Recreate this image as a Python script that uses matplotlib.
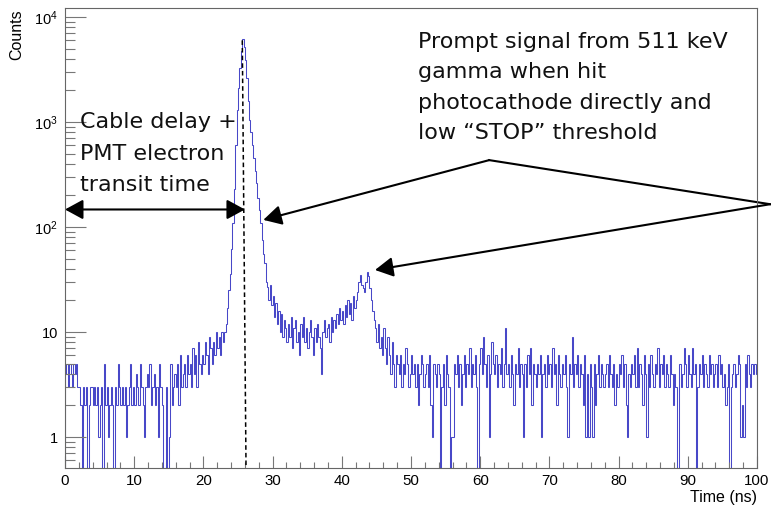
import numpy as np
import matplotlib
matplotlib.use("Agg")
import matplotlib.pyplot as plt
from matplotlib.ticker import FixedLocator, LogLocator, NullFormatter

plt.rcParams['font.family'] = ['Liberation Sans', 'DejaVu Sans']
plt.rcParams['mathtext.fontset'] = 'custom'
plt.rcParams['mathtext.rm'] = 'Liberation Sans'
plt.rcParams['mathtext.it'] = 'Liberation Sans'

# histogram: 0.2 ns bins from 0 to 100 ns (counts)
bin_width = 0.2
counts = [
    4, 5, 3, 5, 4, 3, 5, 4, 5, 3,            # 0-2
    3, 2, 0, 3, 2, 3, 0, 2, 3, 3,            # 2-4
    2, 3, 2, 3, 1, 2, 3, 0, 5, 2,            # 4-6
    3, 1, 2, 3, 2, 0, 3, 2, 5, 3,            # 6-8
    2, 3, 2, 3, 1, 2, 3, 5, 2, 3,            # 8-10
    2, 4, 3, 2, 5, 3, 2, 1, 3, 4,            # 10-12
    3, 5, 2, 3, 4, 2, 3, 1, 5, 3,            # 12-14
    2, 0, 0, 3, 0, 1, 5, 2, 3, 4,            # 14-16
    3, 5, 2, 6, 3, 4, 5, 3, 6, 4,            # 16-18
    5, 3, 7, 4, 6, 3, 8, 5, 4, 6,            # 18-20
    5, 8, 6, 4, 9, 7, 5, 8, 6, 10,           # 20-22
    7, 9, 6, 10, 8, 10, 12, 17, 25, 36,      # 22-24
    62, 110, 230, 600, 1300, 2100, 3300, 4800, 6200, 5200,   # 24-26
    3900, 2600, 1600, 1050, 800, 600, 450, 340, 260, 190,    # 26-28
    145, 110, 75, 55, 45, 30, 27, 20, 28, 18,                # 28-30
    22, 14, 19, 12, 16, 10, 15, 9, 13, 11,   # 30-32
    8, 12, 9, 14, 7, 11, 13, 8, 10, 6,       # 32-34
    12, 9, 14, 8, 11, 7, 10, 13, 9, 6,       # 34-36
    11, 8, 12, 9, 7, 4, 10, 13, 9, 11,       # 36-38
    12, 8, 14, 10, 13, 11, 15, 12, 17, 13,   # 38-40
    16, 12, 18, 14, 20, 15, 19, 13, 22, 17,  # 40-42
    20, 24, 30, 35, 28, 26, 24, 30, 37, 34,  # 42-44
    26, 20, 16, 13, 11, 8, 12, 7, 9, 6,      # 44-46
    11, 7, 5, 9, 6, 4, 8, 5, 3, 6,           # 46-48
    5, 4, 6, 3, 5, 4, 7, 5, 3, 4,            # 48-50
    6, 4, 5, 3, 5, 2, 4, 6, 5, 3,            # 50-52
    4, 5, 3, 6, 2, 1, 5, 4, 3, 5,            # 52-54
    4, 0, 3, 5, 2, 6, 4, 3, 0, 1,            # 54-56
    1, 5, 4, 6, 3, 5, 2, 4, 6, 3,            # 56-58
    5, 4, 7, 3, 5, 4, 6, 3, 0, 5,            # 58-60
    7, 4, 9, 5, 3, 6, 1, 4, 8, 5,            # 60-62
    4, 6, 3, 5, 4, 7, 3, 5, 11, 4,           # 62-64
    5, 3, 6, 4, 2, 5, 4, 7, 3, 5,            # 64-66
    4, 1, 5, 3, 6, 4, 7, 2, 5, 4,            # 66-68
    3, 5, 4, 6, 1, 4, 5, 3, 6, 4,            # 68-70
    5, 3, 7, 4, 5, 2, 6, 4, 3, 5,            # 70-72
    4, 6, 3, 1, 5, 4, 9, 3, 5, 4,            # 72-74
    6, 3, 5, 4, 2, 6, 1, 4, 1, 5,            # 74-76
    3, 1, 5, 2, 4, 6, 3, 5, 4, 3,            # 76-78
    4, 5, 3, 6, 4, 3, 5, 2, 4, 3,            # 78-80
    5, 4, 6, 3, 5, 2, 1, 4, 3, 5,            # 80-82
    4, 6, 3, 7, 3, 5, 4, 2, 6, 4,            # 82-84
    1, 5, 3, 6, 4, 3, 5, 4, 7, 3,            # 84-86
    5, 4, 6, 3, 5, 4, 3, 6, 4, 2,            # 86-88
    4, 3, 0, 0, 5, 3, 4, 7, 5, 3,            # 88-90
    6, 4, 3, 7, 4, 5, 0, 3, 5, 4,            # 90-92
    6, 3, 5, 4, 3, 6, 4, 5, 3, 4,            # 92-94
    5, 3, 6, 4, 5, 3, 4, 2, 3, 5,            # 94-96
    0, 3, 4, 5, 3, 4, 6, 5, 1, 2,            # 96-98
    1, 5, 3, 6, 4, 3, 5, 4, 5, 4,            # 98-100
]

ytick_vals = [1, 10, 100, 1000, 10000]
ytick_labels = ['1', '10', '$10^{2}$', '$10^{3}$', '$10^{4}$']
xtick_vals = [0, 10, 20, 30, 40, 50, 60, 70, 80, 90, 100]

cable_lines = ["Cable delay +", "PMT electron", "transit time"]
prompt_lines = ["Prompt signal from 511 keV", "gamma when hit",
                "photocathode directly and", "low \u201cSTOP\u201d threshold"]

W, H = 771, 511
fig = plt.figure(figsize=(W / 100, H / 100), dpi=100)
ax = fig.add_axes([65 / W, 1 - 468 / H, (757 - 65) / W, (468 - 8) / H])

counts = np.array(counts, dtype=float)
edges = np.arange(len(counts) + 1) * bin_width
drawn = np.where(counts > 0, counts, 1e-2)   # empty bins drop below the axis
ax.stairs(drawn, edges, color='#4848c8', lw=0.75)

ax.set_yscale('log')
ax.set_xlim(0, 100)
ax.set_ylim(0.507, 12200)

ax.xaxis.set_major_locator(FixedLocator(xtick_vals))
ax.xaxis.set_minor_locator(FixedLocator(np.arange(0, 101, 2)))
ax.yaxis.set_major_locator(FixedLocator(ytick_vals))
ax.set_yticklabels(ytick_labels)
ax.yaxis.set_minor_locator(LogLocator(base=10, subs=np.arange(2, 10)))
ax.yaxis.set_minor_formatter(NullFormatter())

ax.tick_params(axis='x', which='major', direction='in', length=8.5, width=0.8,
               color='#777777', labelsize=10.8, pad=4)
ax.tick_params(axis='x', which='minor', direction='in', length=4.3, width=0.8,
               color='#777777')
ax.tick_params(axis='y', which='major', direction='in', length=15, width=0.8,
               color='#777777', labelsize=10.5, pad=5)
ax.tick_params(axis='y', which='minor', direction='in', length=7, width=0.8,
               color='#777777')
for s in ax.spines.values():
    s.set_color('#666666')
    s.set_linewidth(0.8)

fig.text(17 / W, 1 - 9 / H, 'Counts', rotation=90, ha='center', va='top', fontsize=11.5)
fig.text(757 / W, 1 - 497 / H, 'Time (ns)', ha='right', va='center', fontsize=11.5)

# dashed marker of the prompt peak
ax.plot([25.62, 26.16], [6000, 0.507], ls=(0, (3, 2)), color='black', lw=1.1)

# annotations
akw = dict(arrowstyle='-|>,head_length=0.55,head_width=0.3', color='black',
           lw=1.5, mutation_scale=20, shrinkA=0, shrinkB=0)
dkw = dict(akw, arrowstyle='<|-|>,head_length=0.55,head_width=0.3')
ax.annotate('', xy=(26.0, 147), xytext=(0.0, 147), arrowprops=dkw, annotation_clip=False)
ax.annotate('', xy=(28.66, 117), xytext=(61.3, 434), arrowprops=akw, annotation_clip=False)
ax.plot([61.3, 101.9], [434, 165], color='black', lw=1.5, clip_on=False)
ax.annotate('', xy=(44.8, 39), xytext=(101.9, 165), arrowprops=akw, annotation_clip=False)

tfont = dict(family=['DejaVu Sans'], fontsize=16, color='#111111')
for i, line in enumerate(cable_lines):
    fig.text(80 / W, 1 - (128 + 31.5 * i) / H, line, ha='left', va='baseline', **tfont)
for i, line in enumerate(prompt_lines):
    fig.text(418 / W, 1 - (48 + 30.3 * i) / H, line, ha='left', va='baseline', **tfont)

fig.savefig('out.png', dpi=100)
